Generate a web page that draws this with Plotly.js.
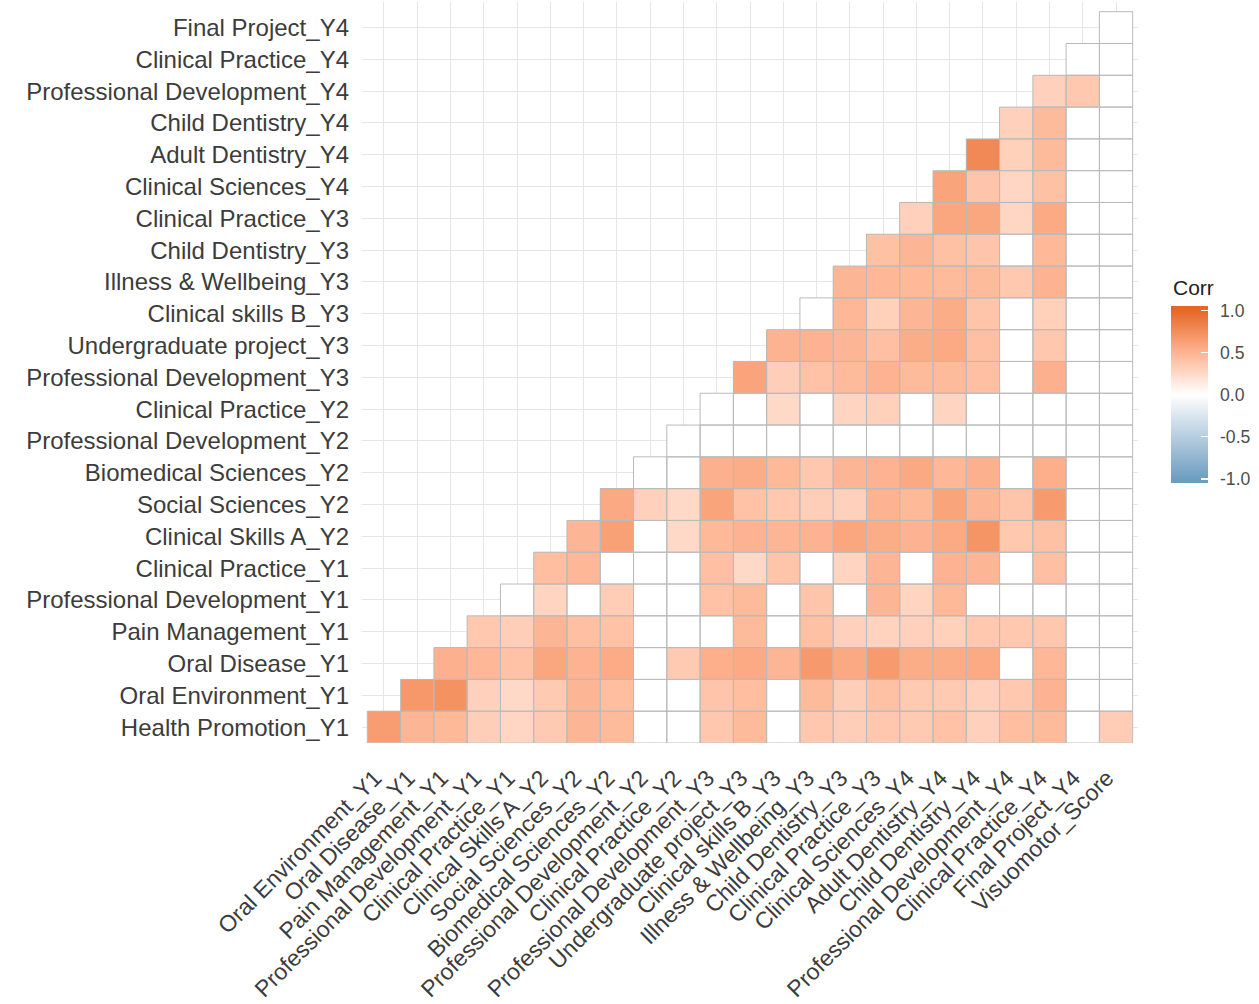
<!DOCTYPE html>
<html>
<head>
<meta charset="utf-8">
<script src="https://cdn.plot.ly/plotly-3.0.1.min.js"></script>
<style>
  html, body { margin: 0; padding: 0; background: #ffffff; }
  #chart { width: 1259px; height: 1004px; }
</style>
</head>
<body>
<div id="chart"></div>
<script>
// Column variables, left to right
const xVars = [
  "Oral Environment_Y1", "Oral Disease_Y1", "Pain Management_Y1",
  "Professional Development_Y1", "Clinical Practice_Y1", "Clinical Skills A_Y2",
  "Social Sciences_Y2", "Biomedical Sciences_Y2", "Professional Development_Y2",
  "Clinical Practice_Y2", "Professional Development_Y3", "Undergraduate project_Y3",
  "Clinical skills B_Y3", "Illness & Wellbeing_Y3", "Child Dentistry_Y3",
  "Clinical Practice_Y3", "Clinical Sciences_Y4", "Adult Dentistry_Y4",
  "Child Dentistry_Y4", "Professional Development_Y4", "Clinical Practice_Y4",
  "Final Project_Y4", "Visuomotor_Score"
];

// Row variables, bottom to top
const yVars = [
  "Health Promotion_Y1", "Oral Environment_Y1", "Oral Disease_Y1",
  "Pain Management_Y1", "Professional Development_Y1", "Clinical Practice_Y1",
  "Clinical Skills A_Y2", "Social Sciences_Y2", "Biomedical Sciences_Y2",
  "Professional Development_Y2", "Clinical Practice_Y2", "Professional Development_Y3",
  "Undergraduate project_Y3", "Clinical skills B_Y3", "Illness & Wellbeing_Y3",
  "Child Dentistry_Y3", "Clinical Practice_Y3", "Clinical Sciences_Y4",
  "Adult Dentistry_Y4", "Child Dentistry_Y4", "Professional Development_Y4",
  "Clinical Practice_Y4", "Final Project_Y4"
];

// Correlations per row variable. Each row starts at the column whose index equals
// the row index and runs to the last column. null = not significant (left blank).
const healthPromotionY1 = [0.65, 0.48, 0.46, 0.32, 0.27, 0.35, 0.48, 0.45, null, null, 0.37, 0.45, null, 0.37, 0.32, 0.37, 0.35, 0.40, 0.30, 0.43, 0.45, null, 0.33];
const oralEnvironmentY1 = [0.68, 0.72, 0.30, 0.25, 0.35, 0.48, 0.43, null, null, 0.38, 0.43, null, 0.45, 0.32, 0.41, 0.35, 0.35, 0.30, 0.36, 0.50, null, null];
const oralDiseaseY1 = [0.52, 0.47, 0.40, 0.58, 0.50, 0.55, null, 0.35, 0.53, 0.56, 0.48, 0.67, 0.57, 0.66, 0.54, 0.54, 0.56, null, 0.47, null, null];
const painManagementY1 = [0.36, 0.32, 0.48, 0.42, 0.40, null, null, null, 0.45, null, 0.41, 0.30, 0.29, 0.30, 0.31, 0.36, 0.36, 0.37, null, null];
const profDevelopmentY1 = [null, 0.28, null, 0.33, null, null, 0.40, 0.45, null, 0.38, null, 0.48, 0.28, 0.46, null, null, null, null, null];
const clinicalPracticeY1 = [0.43, 0.47, null, null, null, 0.42, 0.25, 0.38, null, 0.28, 0.48, null, 0.50, 0.48, null, 0.42, null, null];
const clinicalSkillsAY2 = [0.48, 0.62, null, 0.25, 0.46, 0.50, 0.48, 0.50, 0.58, 0.54, 0.50, 0.56, 0.70, 0.36, 0.41, null, null];
const socialSciencesY2 = [0.57, 0.30, 0.25, 0.60, 0.40, 0.36, 0.32, 0.30, 0.50, 0.46, 0.60, 0.48, 0.38, 0.66, null, null];
const biomedicalSciencesY2 = [null, null, 0.52, 0.54, 0.46, 0.37, 0.48, 0.50, 0.57, 0.47, 0.52, null, 0.53, null, null];
const profDevelopmentY2 = [null, null, null, null, null, null, null, null, null, null, null, null, null, null];
const clinicalPracticeY2 = [null, null, 0.25, null, 0.28, 0.31, null, 0.28, null, null, null, null, null];
const profDevelopmentY3 = [0.60, 0.32, 0.40, 0.45, 0.50, 0.45, 0.45, 0.42, null, 0.52, null, null];
const undergraduateProjectY3 = [0.50, 0.50, 0.48, 0.42, 0.54, 0.56, 0.42, null, 0.37, null, null];
const clinicalSkillsBY3 = [null, 0.47, 0.31, 0.48, 0.54, 0.38, null, 0.31, null, null];
const illnessWellbeingY3 = [0.48, 0.47, 0.46, 0.45, 0.45, 0.36, 0.50, null, null];
const childDentistryY3 = [0.41, 0.48, 0.41, 0.38, null, 0.46, null, null];
const clinicalPracticeY3 = [0.30, 0.58, 0.58, 0.27, 0.56, null, null];
const clinicalSciencesY4 = [0.60, 0.38, 0.27, 0.41, null, null];
const adultDentistryY4 = [0.78, 0.31, 0.45, null, null];
const childDentistryY4 = [0.30, 0.45, null, null];
const profDevelopmentY4 = [0.30, 0.36, null];
const clinicalPracticeY4 = [null, null];
const finalProjectY4 = [null];

// Legend ticks
const legendTickVals = [-1, -0.5, 0, 0.5, 1];
const legendTickText = ["-1.0", "-0.5", "0.0", "0.5", "1.0"];

const rows = [
  healthPromotionY1, oralEnvironmentY1, oralDiseaseY1, painManagementY1,
  profDevelopmentY1, clinicalPracticeY1, clinicalSkillsAY2, socialSciencesY2,
  biomedicalSciencesY2, profDevelopmentY2, clinicalPracticeY2, profDevelopmentY3,
  undergraduateProjectY3, clinicalSkillsBY3, illnessWellbeingY3, childDentistryY3,
  clinicalPracticeY3, clinicalSciencesY4, adultDentistryY4, childDentistryY4,
  profDevelopmentY4, clinicalPracticeY4, finalProjectY4
];

// ---- colour scale: low / mid / high blended in CIE Lab ----
const LOW = "#6D9EC1", MID = "#FFFFFF", HIGH = "#E46726";

function hexToRgb(h) {
  return [1, 3, 5].map(k => parseInt(h.slice(k, k + 2), 16));
}
function srgbToLin(c) { c /= 255; return c <= 0.04045 ? c / 12.92 : Math.pow((c + 0.055) / 1.055, 2.4); }
function linToSrgb(c) {
  c = c <= 0.0031308 ? 12.92 * c : 1.055 * Math.pow(c, 1 / 2.4) - 0.055;
  return Math.max(0, Math.min(255, Math.round(c * 255)));
}
const WN = [0.95047, 1.0, 1.08883];
function rgbToLab(rgb) {
  const [r, g, b] = rgb.map(srgbToLin);
  const X = (0.4124 * r + 0.3576 * g + 0.1805 * b) / WN[0];
  const Y = (0.2126 * r + 0.7152 * g + 0.0722 * b) / WN[1];
  const Z = (0.0193 * r + 0.1192 * g + 0.9505 * b) / WN[2];
  const f = t => t > 0.008856 ? Math.cbrt(t) : 7.787 * t + 16 / 116;
  const fx = f(X), fy = f(Y), fz = f(Z);
  return [116 * fy - 16, 500 * (fx - fy), 200 * (fy - fz)];
}
function labToRgb(lab) {
  const fy = (lab[0] + 16) / 116, fx = fy + lab[1] / 500, fz = fy - lab[2] / 200;
  const inv = t => t * t * t > 0.008856 ? t * t * t : (t - 16 / 116) / 7.787;
  const X = inv(fx) * WN[0], Y = inv(fy) * WN[1], Z = inv(fz) * WN[2];
  const r = 3.2406 * X - 1.5372 * Y - 0.4986 * Z;
  const g = -0.9689 * X + 1.8758 * Y + 0.0415 * Z;
  const b = 0.0557 * X - 0.2040 * Y + 1.0570 * Z;
  return "rgb(" + [r, g, b].map(linToSrgb).join(",") + ")";
}
function mixLab(a, b, t) {
  const la = rgbToLab(hexToRgb(a)), lb = rgbToLab(hexToRgb(b));
  return labToRgb(la.map((v, k) => v + (lb[k] - v) * t));
}

// The legend bar runs slightly past +/-1 (bins are centred on the limits)
const C_LIM = 1 / 0.95;
const colorscale = [[0, mixLab(MID, LOW, 1)]];
const STEPS = 20;
for (let k = -STEPS; k <= STEPS; k++) {
  const v = k / STEPS;
  const col = v < 0 ? mixLab(MID, LOW, -v) : mixLab(MID, HIGH, v);
  colorscale.push([(v + C_LIM) / (2 * C_LIM), col]);
}
colorscale.push([1, mixLab(MID, HIGH, 1)]);

// ---- lower-triangle matrix ----
const z = yVars.map((_, i) => xVars.map((_, j) => {
  if (j < i) return null;
  const v = rows[i][j - i];
  return v === null ? 0 : v;   // non-significant pairs are drawn blank
}));

// tile outlines for every cell of the triangle
const shapes = [];
yVars.forEach((_, i) => {
  xVars.forEach((_, j) => {
    if (j < i) return;
    shapes.push({
      type: "rect", xref: "x", yref: "y",
      x0: j - 0.5, x1: j + 0.5, y0: i - 0.5, y1: i + 0.5,
      line: { color: "#bababa", width: 1 }, fillcolor: "rgba(0,0,0,0)", layer: "above"
    });
  });
});

const FONT = "Liberation Sans, Arial, Helvetica, sans-serif";

// shared geometry of the legend bar
const barGeom = {
  x: 1.043, xanchor: "left", xpad: 0,
  y: 0.4699, yanchor: "middle", ypad: 0,
  lenmode: "pixels", len: 176.6,
  thickness: 36.6, thicknessmode: "pixels",
  outlinewidth: 0, borderwidth: 0,
  tickmode: "array", tickvals: legendTickVals
};

const heat = {
  type: "heatmap",
  x: xVars, y: yVars, z: z,
  zmin: -C_LIM, zmax: C_LIM,
  colorscale: colorscale,
  hoverongaps: false,
  colorbar: Object.assign({}, barGeom, {
    ticktext: legendTickText,
    ticks: "outside", ticklen: 9, tickcolor: "rgba(255,255,255,0)",
    tickfont: { family: FONT, size: 17.6, color: "#4d4d4d" }
  })
};

// same matrix, invisible, only to lay white tick marks over the legend bar
const tickOverlay = {
  type: "heatmap",
  x: xVars, y: yVars, z: z,
  zmin: -C_LIM, zmax: C_LIM,
  colorscale: colorscale,
  opacity: 0,
  hoverinfo: "skip",
  colorbar: Object.assign({}, barGeom, {
    showticklabels: false,
    ticks: "inside", ticklen: 7, tickwidth: 1.3, tickcolor: "#ffffff"
  })
};

const layout = {
  width: 1259, height: 1004,
  margin: { l: 362, r: 121, t: 2, b: 261, pad: 0 },
  paper_bgcolor: "#ffffff", plot_bgcolor: "#ffffff",
  showlegend: false,
  font: { family: FONT, color: "#3c3c3c" },
  xaxis: {
    type: "category", range: [-0.66, 22.66],
    showgrid: true, gridcolor: "#e6e6e6", gridwidth: 1,
    zeroline: false, showline: false, ticks: "",
    tickangle: -45, ticklabelstandoff: 16, ticklabelshift: -9,
    tickfont: { family: FONT, size: 23, color: "#3c3c3c" },
    fixedrange: true
  },
  yaxis: {
    type: "category", range: [-0.5, 22.805],
    showgrid: true, gridcolor: "#e6e6e6", gridwidth: 1,
    zeroline: false, showline: false, ticks: "",
    ticklabelstandoff: 12,
    tickfont: { family: FONT, size: 24, color: "#3c3c3c" },
    fixedrange: true
  },
  shapes: shapes,
  annotations: [{
    text: "Corr", xref: "paper", yref: "paper",
    x: 1.043, xanchor: "left", y: 0.6142, yanchor: "middle",
    showarrow: false, font: { family: FONT, size: 21, color: "#222222" }
  }]
};

Plotly.newPlot("chart", [heat, tickOverlay], layout, { displayModeBar: false, staticPlot: true });
</script>
</body>
</html>
